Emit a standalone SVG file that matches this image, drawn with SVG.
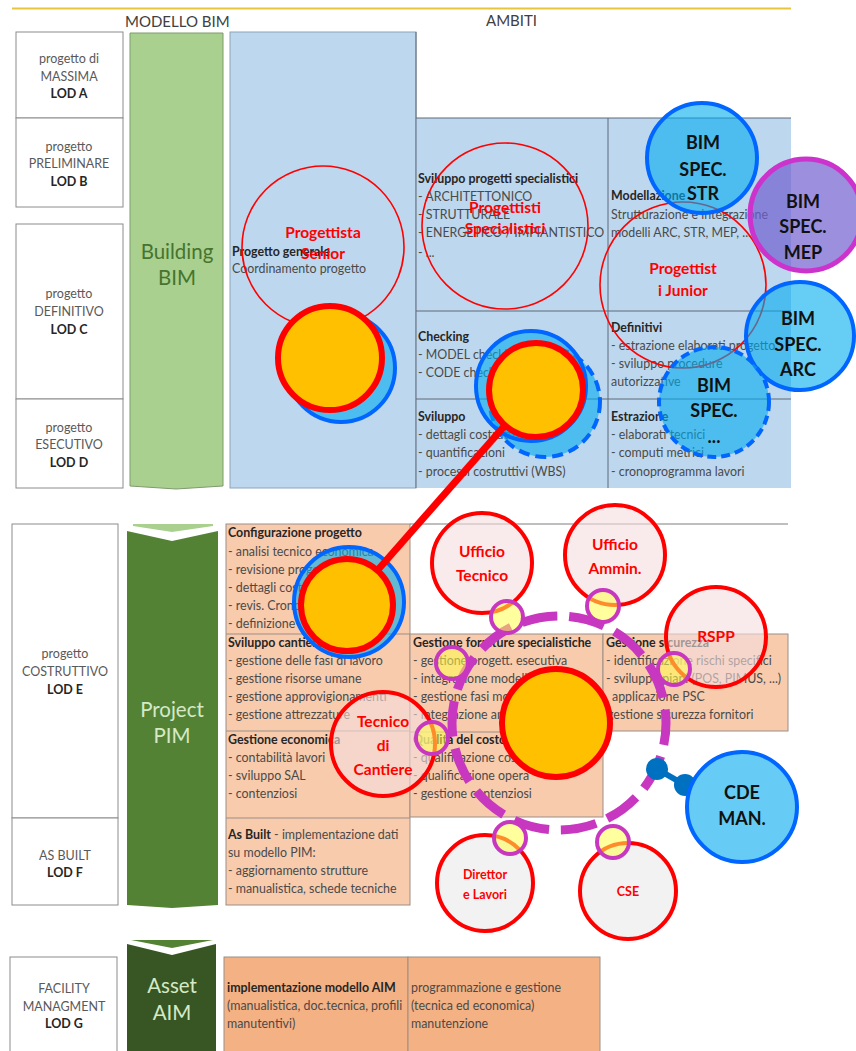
<svg xmlns="http://www.w3.org/2000/svg" width="856" height="1051" viewBox="0 0 856 1051">
  <style>
    text { font-family: Lato, "Liberation Sans", sans-serif; }
    .hdr { font-size: 15px; fill: #404040; }
    .lod { font-size: 12.5px; fill: #595959; text-anchor: middle; }
    .lodb { font-size: 12.5px; fill: #262626; font-weight: bold; text-anchor: middle; }
    .cell { font-size: 12.4px; fill: #4a4a4a; }
    .cellb { font-size: 12.4px; fill: #262626; font-weight: bold; }
    .model { font-size: 20.5px; text-anchor: middle; }
    .role { font-size: 15.5px; font-weight: bold; fill: #ff0000; text-anchor: middle; }
    .roles { font-size: 12.5px; font-weight: bold; fill: #ff0000; text-anchor: middle; }
    .bim { font-size: 18px; font-weight: bold; fill: #111111; text-anchor: middle; }
    .ring { fill: none; stroke: #ff0000; stroke-width: 1.6; }
    .blue { fill: #00abee; fill-opacity: 0.6; stroke: #0066ff; stroke-width: 4; }
    .core { fill: #ffc000; stroke: #ff0000; stroke-width: 6; }
    .person { fill: #f5dede; fill-opacity: 0.6; stroke: #ff0000; stroke-width: 4; }
    .person2 { fill: #f2f2f2; stroke: #ff0000; stroke-width: 4; }
    .link { fill: #ffff4d; fill-opacity: 0.55; stroke: #c837c0; stroke-width: 4; }
    .lodbox { fill: #ffffff; stroke: #8c8c8c; stroke-width: 1; }
    .tab { fill: #f8cbad; stroke: #9a8f88; stroke-width: 1; }
    .tab2 { fill: #f4b183; stroke: #9a8f88; stroke-width: 1; }
    .grid { stroke: #5f6b78; stroke-width: 1; }
  </style>

  <rect width="856" height="1051" fill="#ffffff"/>

  <!-- header -->
  <line x1="12" y1="8.5" x2="791" y2="8.5" stroke="#e8c53a" stroke-width="2"/>
  <text class="hdr" x="125" y="27">MODELLO BIM</text>
  <text class="hdr" x="486" y="26" font-size="13.5">AMBITI</text>

  <!-- ===== design phase: LOD A-D ===== -->
  <g id="lod-a">
    <rect class="lodbox" x="16" y="32" width="107" height="86"/>
    <text class="lod" x="69" y="63">progetto di</text>
    <text class="lod" x="69" y="81">MASSIMA</text>
    <text class="lodb" x="69" y="98">LOD A</text>
  </g>
  <g id="lod-b">
    <rect class="lodbox" x="16" y="118" width="107" height="89"/>
    <text class="lod" x="69" y="151">progetto</text>
    <text class="lod" x="69" y="168">PRELIMINARE</text>
    <text class="lodb" x="69" y="186">LOD B</text>
  </g>
  <g id="lod-c">
    <rect class="lodbox" x="16" y="224" width="107" height="175"/>
    <text class="lod" x="69" y="298">progetto</text>
    <text class="lod" x="69" y="316">DEFINITIVO</text>
    <text class="lodb" x="69" y="334">LOD C</text>
  </g>
  <g id="lod-d">
    <rect class="lodbox" x="16" y="399" width="107" height="89"/>
    <text class="lod" x="69" y="432">progetto</text>
    <text class="lod" x="69" y="449">ESECUTIVO</text>
    <text class="lodb" x="69" y="467">LOD D</text>
  </g>

  <g id="building-bim">
    <path d="M130 33 H223 V486 L176 489 L130 486 Z" fill="#a9d08e" stroke="#7f9a6e" stroke-width="1"/>
    <text class="model" x="177" y="259" fill="#46742e">Building</text>
    <text class="model" x="177" y="285" fill="#46742e">BIM</text>
  </g>

  <g id="ambiti-design">
    <rect x="230" y="32" width="186" height="456" fill="#bdd7ee" stroke="#8ea4b8" stroke-width="1"/>
    <rect x="416" y="118" width="375" height="370" fill="#bdd7ee"/>
    <line class="grid" x1="416" y1="118" x2="791" y2="118"/>
    <line class="grid" x1="416" y1="311" x2="791" y2="311"/>
    <line class="grid" x1="416" y1="399" x2="791" y2="399"/>
    <line class="grid" x1="608" y1="118" x2="608" y2="488"/>
    <line class="grid" x1="416" y1="32" x2="416" y2="488"/>

    <text class="cellb" x="232" y="256">Progetto generale</text>
    <text class="cell" x="232" y="273">Coordinamento progetto</text>

    <text class="cellb" x="418" y="183">Sviluppo progetti specialistici</text>
    <text class="cell" x="418" y="201">- ARCHITETTONICO</text>
    <text class="cell" x="418" y="219">- STRUTTURALE</text>
    <text class="cell" x="418" y="237">- ENERGETICO / IMPIANTISTICO</text>
    <text class="cell" x="418" y="257">- ...</text>

    <text class="cellb" x="611" y="200">Modellazione</text>
    <text class="cell" x="611" y="219">Strutturazione e integrazione</text>
    <text class="cell" x="611" y="237">modelli ARC, STR, MEP, ...</text>

    <text class="cellb" x="418" y="341">Checking</text>
    <text class="cell" x="418" y="359">- MODEL checking</text>
    <text class="cell" x="418" y="377">- CODE checking</text>

    <text class="cellb" x="611" y="332">Definitivi</text>
    <text class="cell" x="611" y="350">- estrazione elaborati progetto</text>
    <text class="cell" x="611" y="368">- sviluppo procedure</text>
    <text class="cell" x="611" y="386">autorizzative</text>

    <text class="cellb" x="418" y="421">Sviluppo</text>
    <text class="cell" x="418" y="439">- dettagli costruttivi</text>
    <text class="cell" x="418" y="457">- quantificazioni</text>
    <text class="cell" x="418" y="476">- processi costruttivi (WBS)</text>

    <text class="cellb" x="611" y="421">Estrazione</text>
    <text class="cell" x="611" y="439">- elaborati tecnici</text>
    <text class="cell" x="611" y="457">- computi metrici</text>
    <text class="cell" x="611" y="476">- cronoprogramma lavori</text>
  </g>

  <!-- ===== construction phase: LOD E-F ===== -->
  <g id="lod-e">
    <rect class="lodbox" x="12" y="524" width="106" height="294"/>
    <text class="lod" x="65" y="658">progetto</text>
    <text class="lod" x="65" y="676">COSTRUTTIVO</text>
    <text class="lodb" x="65" y="694">LOD E</text>
  </g>
  <g id="lod-f">
    <rect class="lodbox" x="12" y="818" width="106" height="87"/>
    <text class="lod" x="65" y="860">AS BUILT</text>
    <text class="lodb" x="65" y="877">LOD F</text>
  </g>

  <g id="project-pim">
    <path d="M133 524 H213 V526 L172 532 L133 526 Z" fill="#a9d08e"/>
    <path d="M127 531 L172 541 L218 531 V905 L172 908 L127 905 Z" fill="#548235"/>
    <text class="model" x="172" y="717" fill="#d6e9c6">Project</text>
    <text class="model" x="172" y="743" fill="#d6e9c6">PIM</text>
  </g>

  <g id="ambiti-construction">
    <rect class="tab" x="226" y="524" width="184" height="381"/>
    <rect class="tab" x="410" y="634" width="193" height="183"/>
    <rect class="tab" x="603" y="634" width="185" height="97"/>
    <line x1="410" y1="524" x2="788" y2="524" stroke="#7f7f7f" stroke-width="1"/>
    <line x1="226" y1="634" x2="410" y2="634" stroke="#9a8f88"/>
    <line x1="226" y1="731" x2="410" y2="731" stroke="#9a8f88"/>
    <line x1="410" y1="732" x2="603" y2="732" stroke="#9a8f88"/>
    <line x1="226" y1="818" x2="410" y2="818" stroke="#9a8f88"/>

    <text class="cellb" x="228" y="537">Configurazione progetto</text>
    <text class="cell" x="228" y="556">- analisi tecnico economica</text>
    <text class="cell" x="228" y="574">- revisione progetto</text>
    <text class="cell" x="228" y="592">- dettagli costruttivi</text>
    <text class="cell" x="228" y="610">- revis. Cronoprogramma</text>
    <text class="cell" x="228" y="628">- definizione</text>

    <text class="cellb" x="228" y="647">Sviluppo cantiere</text>
    <text class="cell" x="228" y="665">- gestione delle fasi di lavoro</text>
    <text class="cell" x="228" y="683">- gestione risorse umane</text>
    <text class="cell" x="228" y="701">- gestione approvigionamenti</text>
    <text class="cell" x="228" y="719">- gestione attrezzature</text>

    <text class="cellb" x="228" y="744">Gestione economica</text>
    <text class="cell" x="228" y="762">- contabilità lavori</text>
    <text class="cell" x="228" y="780">- sviluppo SAL</text>
    <text class="cell" x="228" y="798">- contenziosi</text>

    <text class="cell" x="228" y="839"><tspan class="cellb">As Built</tspan> - implementazione dati</text>
    <text class="cell" x="228" y="857">su modello PIM:</text>
    <text class="cell" x="228" y="875">- aggiornamento strutture</text>
    <text class="cell" x="228" y="893">- manualistica, schede tecniche</text>

    <text class="cellb" x="413" y="647">Gestione forniture specialistiche</text>
    <text class="cell" x="413" y="665">- gestione progett. esecutiva</text>
    <text class="cell" x="413" y="683">- integrazione modelli</text>
    <text class="cell" x="413" y="701">- gestione fasi montaggio</text>
    <text class="cell" x="413" y="719">- integrazione ambiti</text>

    <text class="cellb" x="413" y="744">Qualità del costo</text>
    <text class="cell" x="413" y="762">- qualificazione costi</text>
    <text class="cell" x="413" y="780">- qualificazione opera</text>
    <text class="cell" x="413" y="798">- gestione contenziosi</text>

    <text class="cellb" x="606" y="647">Gestione sicurezza</text>
    <text class="cell" x="606" y="665">- identificazione rischi specifici</text>
    <text class="cell" x="606" y="683">- sviluppo piani (POS, PIMUS, ...)</text>
    <text class="cell" x="612" y="701">applicazione PSC</text>
    <text class="cell" x="607" y="719">gestione sicurezza fornitori</text>
  </g>

  <!-- ===== facility management: LOD G ===== -->
  <g id="lod-g">
    <rect class="lodbox" x="10" y="957" width="107" height="100"/>
    <text class="lod" x="64" y="993">FACILITY</text>
    <text class="lod" x="64" y="1011">MANAGMENT</text>
    <text class="lodb" x="64" y="1028">LOD G</text>
  </g>
  <g id="asset-aim">
    <path d="M131 940 H213 L172 948 Z" fill="#548235"/>
    <path d="M127 944 L172 955 L216 944 V1051 H127 Z" fill="#375623"/>
    <text class="model" x="172" y="993" fill="#d6e9c6">Asset</text>
    <text class="model" x="172" y="1020" fill="#d6e9c6">AIM</text>
  </g>
  <g id="ambiti-facility">
    <rect class="tab2" x="224" y="957" width="184" height="100"/>
    <rect class="tab2" x="408" y="957" width="192" height="100"/>
    <text class="cellb" x="227" y="992">implementazione modello AIM</text>
    <text class="cell" x="227" y="1010">(manualistica, doc.tecnica, profili</text>
    <text class="cell" x="227" y="1028">manutentivi)</text>
    <text class="cell" x="411" y="992">programmazione e gestione</text>
    <text class="cell" x="411" y="1010">(tecnica ed economica)</text>
    <text class="cell" x="411" y="1028">manutenzione</text>
  </g>

  <!-- ===== design roles ===== -->
  <g id="progettista-senior">
    <circle class="ring" cx="323" cy="247" r="81"/>
    <text class="role" x="323" y="238">Progettista</text>
    <text class="role" x="323" y="259">Senior</text>
  </g>
  <g id="progettisti-specialistici">
    <circle class="ring" cx="505" cy="226" r="83"/>
    <text class="role" x="505" y="213">Progettisti</text>
    <text class="role" x="505" y="234">Specialistici</text>
  </g>
  <g id="progettisti-junior">
    <circle class="ring" cx="683" cy="285" r="83"/>
    <text class="role" x="683" y="274">Progettist</text>
    <text class="role" x="683" y="296">i Junior</text>
  </g>

  <g id="bim-spec-str">
    <circle class="blue" cx="702" cy="158" r="55"/>
    <text class="bim" x="703" y="149">BIM</text>
    <text class="bim" x="703" y="176">SPEC.</text>
    <text class="bim" x="703" y="200">STR</text>
  </g>
  <g id="bim-spec-mep">
    <circle cx="806" cy="215" r="56" fill="#7060d0" fill-opacity="0.7" stroke="#cc33cc" stroke-width="5"/>
    <text class="bim" x="803" y="208" fill="#5a1a6a">BIM</text>
    <text class="bim" x="803" y="233" fill="#5a1a6a">SPEC.</text>
    <text class="bim" x="803" y="259" fill="#5a1a6a">MEP</text>
  </g>
  <g id="bim-spec-arc">
    <circle class="blue" cx="800" cy="336" r="54"/>
    <text class="bim" x="798" y="325">BIM</text>
    <text class="bim" x="798" y="351">SPEC.</text>
    <text class="bim" x="798" y="376">ARC</text>
  </g>
  <g id="bim-spec-other">
    <circle class="blue" cx="714" cy="402" r="55" stroke-dasharray="9 5"/>
    <text class="bim" x="714" y="392" fill="#1a2a5a">BIM</text>
    <text class="bim" x="714" y="417" fill="#1a2a5a">SPEC.</text>
    <text class="bim" x="714" y="443" fill="#1a2a5a">...</text>
  </g>

  <!-- blue halos behind the core nodes -->
  <g id="halo-design">
    <circle class="blue" cx="341" cy="368" r="54"/>
  </g>
  <g id="halo-checking">
    <circle class="blue" cx="545" cy="402" r="55" stroke-dasharray="11 6"/>
    <circle class="blue" cx="531" cy="386" r="55"/>
  </g>
  <g id="halo-config">
    <circle class="blue" cx="349" cy="602" r="55"/>
  </g>

  <!-- ===== construction coordination ring ===== -->
  <g id="coordination-ring">
    <circle cx="559" cy="723" r="107" fill="none" stroke="#c837c0" stroke-width="9" stroke-dasharray="36 12" stroke-dashoffset="14"/>
  </g>

  <!-- connectors -->
  <g id="connectors">
    <line x1="536" y1="390" x2="347" y2="605" stroke="#ff0000" stroke-width="7"/>
    <line x1="657" y1="769" x2="685" y2="785" stroke="#0070c0" stroke-width="6"/>
    <circle cx="657" cy="769" r="11" fill="#0070c0"/>
    <circle cx="685" cy="785" r="11" fill="#0070c0"/>
  </g>

  <!-- core nodes -->
  <g id="core-design"><circle class="core" cx="330" cy="358" r="52"/></g>
  <g id="core-checking"><circle class="core" cx="536" cy="390" r="47"/></g>
  <g id="core-config"><circle class="core" cx="347" cy="605" r="46"/></g>
  <g id="core-construction"><circle class="core" cx="556" cy="723" r="54"/></g>

  <!-- construction roles -->
  <g id="ufficio-tecnico">
    <circle class="person" cx="482" cy="563" r="50"/>
    <text class="role" x="482" y="557">Ufficio</text>
    <text class="role" x="482" y="581">Tecnico</text>
  </g>
  <g id="ufficio-amministrativo">
    <circle class="person" cx="615" cy="555" r="50"/>
    <text class="role" x="615" y="550">Ufficio</text>
    <text class="role" x="615" y="574">Ammin.</text>
  </g>
  <g id="rspp">
    <circle class="person" cx="716" cy="637" r="50"/>
    <text class="role" x="716" y="642">RSPP</text>
  </g>
  <g id="tecnico-cantiere">
    <circle class="person" cx="383" cy="744" r="52"/>
    <text class="role" x="383" y="727">Tecnico</text>
    <text class="role" x="383" y="751">di</text>
    <text class="role" x="383" y="775">Cantiere</text>
  </g>
  <g id="direttore-lavori">
    <circle class="person2" cx="485" cy="883" r="48"/>
    <text class="roles" x="485" y="879">Direttor</text>
    <text class="roles" x="485" y="899">e Lavori</text>
  </g>
  <g id="cse">
    <circle class="person2" cx="628" cy="891" r="48"/>
    <text class="roles" x="628" y="896">CSE</text>
  </g>
  <g id="cde-man">
    <circle cx="742" cy="807" r="55" fill="#66ccf5" stroke="#0066ff" stroke-width="4"/>
    <text class="bim" x="742" y="799">CDE</text>
    <text class="bim" x="742" y="825">MAN.</text>
  </g>

  <!-- ring attachment points -->
  <g id="ring-links">
    <circle class="link" cx="507" cy="617" r="16"/>
    <circle class="link" cx="603" cy="606" r="16"/>
    <circle class="link" cx="674" cy="669" r="16"/>
    <circle class="link" cx="452" cy="663" r="16"/>
    <circle class="link" cx="432" cy="738" r="16"/>
    <circle class="link" cx="510" cy="838" r="16"/>
    <circle class="link" cx="613" cy="842" r="16"/>
  </g>
</svg>
